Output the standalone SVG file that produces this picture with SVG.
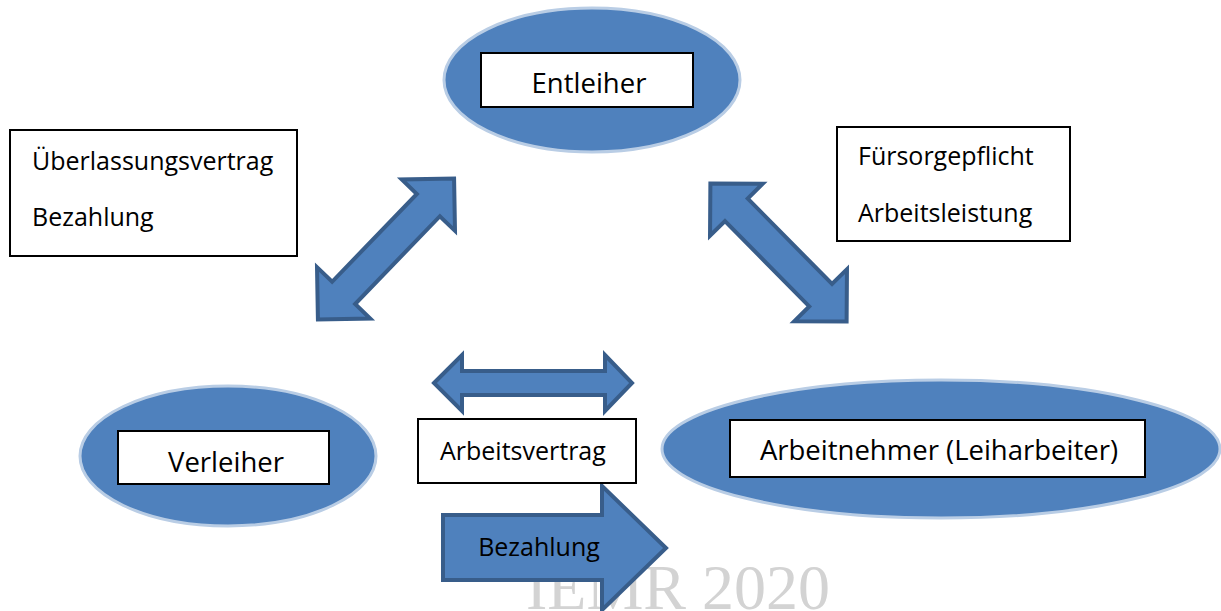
<svg xmlns="http://www.w3.org/2000/svg" width="1221" height="611" viewBox="0 0 1221 611">
<defs>
<style>
.ell{fill:#4f81bd;stroke:#b9cde5;stroke-width:3}
.box{fill:#ffffff;stroke:#000000;stroke-width:2}
.arr{fill:#4f81bd;stroke:#385d8a;stroke-width:4;stroke-linejoin:miter}
.lbl{font-family:"Open Sans","Liberation Sans",sans-serif;fill:#000000}
.big{font-size:27.5px}
.mid{font-size:25px}
.wm{font-family:"Liberation Serif","Times New Roman",serif;font-size:64px;fill:#d3d3d3}
</style>
</defs>
<rect width="1221" height="611" fill="#ffffff"/>
<text class="wm" x="830" y="609" text-anchor="end">IEMR 2020</text>
<g id="connectors">
<polygon class="arr" transform="translate(386,249) rotate(-46)" points="-98,0 -61,-37 -61,-16 61,-16 61,-37 98,0 61,37 61,16 -61,16 -61,37"/>
<polygon class="arr" transform="translate(778.5,252.5) rotate(45.4)" points="-97,0 -60,-37 -60,-16 60,-16 60,-37 97,0 60,37 60,16 -60,16 -60,37"/>
<polygon class="arr" points="434,383 462,355 462,371 605,371 605,355 632,383 605,411 605,395 462,395 462,411"/>
<g id="bezahlung-arrow">
<polygon class="arr" points="443,515 602,515 602,486 666,548 602,610 602,580 443,580"/>
<text class="lbl mid" x="539" y="556" text-anchor="middle">Bezahlung</text>
</g>
</g>
<g id="entleiher">
<ellipse class="ell" cx="592" cy="80" rx="148" ry="72"/>
<rect class="box" x="481" y="53" width="212" height="54"/>
<text class="lbl big" x="589" y="93" text-anchor="middle">Entleiher</text>
</g>
<g id="verleiher">
<ellipse class="ell" cx="228" cy="456" rx="148" ry="70"/>
<rect class="box" x="118" y="431" width="211" height="53"/>
<text class="lbl big" x="226" y="472" text-anchor="middle">Verleiher</text>
</g>
<g id="arbeitnehmer">
<ellipse class="ell" cx="941" cy="449" rx="279" ry="69"/>
<rect class="box" x="730" y="420" width="415" height="57"/>
<text class="lbl big" x="939" y="460" text-anchor="middle">Arbeitnehmer (Leiharbeiter)</text>
</g>
<g id="ueberlassung">
<rect class="box" x="10" y="130" width="287" height="126"/>
<text class="lbl mid" x="32" y="170">Überlassungsvertrag</text>
<text class="lbl mid" x="32" y="226">Bezahlung</text>
</g>
<g id="fuersorge">
<rect class="box" x="837" y="127" width="233" height="114"/>
<text class="lbl mid" x="858" y="165">Fürsorgepflicht</text>
<text class="lbl mid" x="858" y="222">Arbeitsleistung</text>
</g>
<g id="arbeitsvertrag">
<rect class="box" x="418" y="419" width="218" height="64"/>
<text class="lbl mid" x="440" y="460">Arbeitsvertrag</text>
</g>
</svg>
